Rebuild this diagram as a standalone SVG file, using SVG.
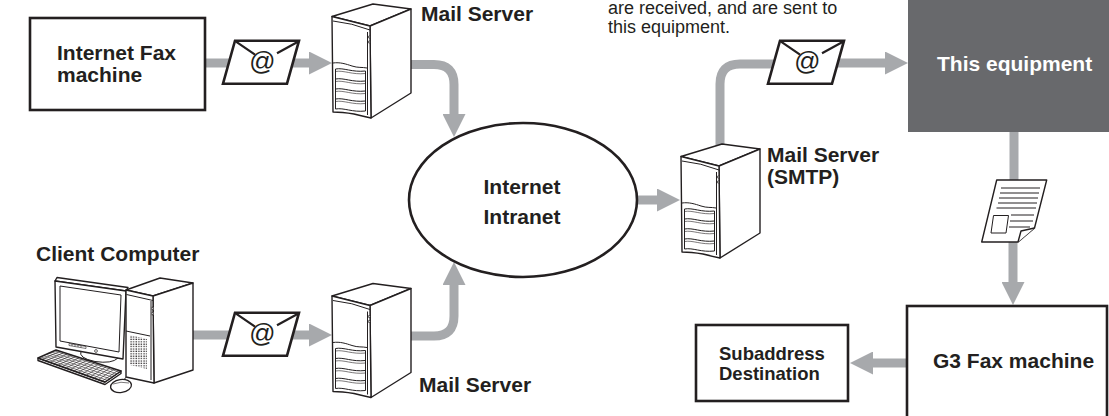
<svg xmlns="http://www.w3.org/2000/svg" width="1109" height="416" viewBox="0 0 1109 416">
<style>
  .lbl{font-family:"Liberation Sans",Arial,Helvetica,sans-serif;font-weight:bold;font-size:21px;fill:#231f20}
  .sm{font-size:18.5px}
  .note{font-family:"Liberation Sans",Arial,Helvetica,sans-serif;font-size:18px;fill:#231f20}
  .box{fill:#fff;stroke:#231f20;stroke-width:2.6}
  .flow{fill:none;stroke:#a7a9ac;stroke-width:9}
  .arr{marker-end:url(#head)}
  .ln{fill:#fff;stroke:#231f20;stroke-width:1.4;stroke-linejoin:round}
  .thin{fill:none;stroke:#231f20;stroke-width:1}
  .hair{fill:none;stroke:#231f20;stroke-width:0.6}
  .at{font-family:"Liberation Sans",Arial,Helvetica,sans-serif;font-style:italic;font-size:26px;fill:#231f20}
</style>
<defs>
  <marker id="head" viewBox="0 -11.5 23 23" refX="0" refY="0" markerWidth="23" markerHeight="23" markerUnits="userSpaceOnUse" orient="auto">
    <path d="M0,-11.5 L23,0 L0,11.5 Z" fill="#a7a9ac"/>
  </marker>
  <pattern id="vent" width="2.6" height="2.4" patternUnits="userSpaceOnUse">
    <rect x="0.4" y="0.4" width="1.3" height="1.2" fill="#231f20"/>
  </pattern>
  <!-- tower server, local origin at top-left of its bounding box -->
  <g id="server">
    <path class="ln" d="M0,12.5 L41,0 L79,5 L38,22 Z"/>
    <path class="ln" d="M38,22 L79,5 L79,89 L39,114 Z"/>
    <path class="ln" d="M0,12.5 L38,22 L39,114 Q30,112 22,110 Q10,108 1,108 Z"/>
    <path class="thin" d="M1,17 Q20,19 38,26"/>
    <path class="thin" d="M35.5,28 V111"/>
    <circle cx="37.2" cy="33" r="1" fill="#fff" stroke="#231f20" stroke-width="0.8"/>
    <circle cx="37.2" cy="38" r="1" fill="#fff" stroke="#231f20" stroke-width="0.8"/>
    <path class="thin" d="M1,59 C8,58 14,60 20,62 C26,64 30,63 35,64"/>
    <path class="thin" d="M3.5,65 V105 M33.5,67 V107"/>
    <path class="thin" d="M3.5,65 C12,63.5 20,68.5 33.5,67 M3.5,75 C12,73.5 20,78.5 33.5,77 M3.5,85 C12,83.5 20,88.5 33.5,87 M3.5,95 C12,93.5 20,98.5 33.5,97 M3.5,105 C12,103.5 20,108.5 33.5,107"/>
    <path class="hair" d="M3.5,67.5 C12,66 20,71 33.5,69.5 M3.5,77.5 C12,76 20,81 33.5,79.5 M3.5,87.5 C12,86 20,91 33.5,89.5 M3.5,97.5 C12,96 20,101 33.5,99.5"/>
  </g>
  <!-- e-mail envelope, local origin at top-left corner -->
  <g id="envelope">
    <polygon points="0,0 64,0 52,43 -12,43" fill="#fff" stroke="#231f20" stroke-width="2.6" stroke-linejoin="miter"/>
    <path d="M1,1 L20,14 M63,1 L42,12.5" fill="none" stroke="#231f20" stroke-width="2.2"/>
    <text class="at" x="27" y="29.5" text-anchor="middle">@</text>
  </g>
</defs>

<rect width="1109" height="416" fill="#fff"/>

<!-- connectors -->
<g id="connectors">
  <path class="flow" d="M205,63 H232"/>
  <path class="flow arr" d="M288,63 H309"/>
  <path class="flow arr" d="M410,64.5 H434 Q454,64.5 454,84.5 V114"/>
  <path class="flow" d="M193,335 H232"/>
  <path class="flow arr" d="M288,335 H309"/>
  <path class="flow arr" d="M411,336 H434 Q454,336 454,316 V285"/>
  <path class="flow arr" d="M636,200 H657"/>
  <path class="flow" d="M720,150 V84 Q720,64 740,64 H775"/>
  <path class="flow arr" d="M836,63 H885"/>
  <path class="flow" d="M1014,131 V186"/>
  <path class="flow arr" d="M1013,240 V282"/>
  <path class="flow arr" d="M908,363 H873"/>
</g>

<!-- note text at the top -->
<g id="note">
  <text class="note" x="608" y="14">are received, and are sent to</text>
  <text class="note" x="608" y="33">this equipment.</text>
</g>

<g id="internet-fax">
  <rect class="box" x="30" y="18" width="175" height="92"/>
  <text class="lbl" x="57" y="60">Internet Fax</text>
  <text class="lbl" x="57" y="82">machine</text>
</g>

<g id="envelope-1"><use href="#envelope" x="235" y="40.7"/></g>

<g id="mail-server-top">
  <use href="#server" x="332" y="4"/>
  <text class="lbl" x="421" y="21">Mail Server</text>
</g>

<g id="client-computer">
  <text class="lbl" x="36" y="261">Client Computer</text>
  <!-- monitor -->
  <path class="ln" d="M55,281 L57,277.5 L128,287.5 L126,291 Z"/>
  <path class="ln" d="M55,281 L126,291 L123,359 L56,347 Z"/>
  <path class="thin" d="M60,286 L121,295 L119,352 L60,341 Z"/>
  <path class="hair" d="M69,343.5 L86,346.5 L86,348.5 L69,345.5 Z M72,344 V346 M75,344.5 V346.5 M78,345 V347 M81,345.5 V347.5"/>
  <circle cx="96" cy="351" r="1.4" fill="#fff" stroke="#231f20" stroke-width="0.7"/>
  <path class="thin" d="M81,351 Q78,358 95,361.5 Q112,364 118,358"/>
  <!-- keyboard -->
  <path class="ln" d="M38,358 L38,360.5 L105,384.5 L121,373.5 L121,371 L105,382 Z"/>
  <path class="ln" d="M38,358 L56,350 L121,371 L105,382 Z"/>
  <path class="hair" d="M40.7,356.8 L107.4,380.4 M43.4,355.6 L109.8,378.7 M46.1,354.4 L112.2,377.1 M48.8,353.2 L114.6,375.4 M51.5,352 L117,373.8 M54.2,350.8 L119.4,372.1
    M42,359.4 L59.9,351.3 M46,360.9 L63.8,352.5 M50.1,362.3 L67.7,353.8 M54.1,363.8 L71.6,355 M58.1,365.2 L75.5,356.3 M62.1,366.6 L79.4,357.6 M66.1,368.1 L83.3,358.8 M70.2,369.5 L87.2,360.1 M74.2,371 L91.1,361.3 M78.2,372.4 L95,362.6 M82.2,373.8 L98.9,363.9 M86.2,375.3 L102.8,365.1 M90.3,376.7 L106.7,366.4 M94.3,378.2 L110.6,367.6 M98.3,379.6 L114.5,368.9 M102.3,381 L118.4,370.2"/>
  <!-- mouse and cord -->
  <path class="thin" d="M124,380 Q127,374 133,375"/>
  <ellipse cx="121" cy="386" rx="10.5" ry="6.5" transform="rotate(-8 121 386)" fill="#fff" stroke="#231f20" stroke-width="1.3"/>
  <path class="hair" d="M113,384 Q121,381 129,383"/>
  <!-- tower -->
  <path class="ln" d="M126,290 L160,278 L193,283 L153,296 Z"/>
  <path class="ln" d="M153,296 L193,283 L193,370 L154,383 Z"/>
  <path class="ln" d="M126,290 L153,296 L154,383 L126,377 Z"/>
  <path class="thin" d="M126.5,294.5 L153,300.5"/>
  <path class="thin" d="M151,301 V380"/>
  <rect x="152" y="307" width="1.6" height="3" fill="#fff" stroke="#231f20" stroke-width="0.6"/>
  <rect x="152" y="312" width="1.6" height="3" fill="#fff" stroke="#231f20" stroke-width="0.6"/>
  <path class="thin" d="M126,331 L150,336"/>
  <path d="M130,335 L147,339 L147,369 L130,365 Z" fill="url(#vent)"/>
</g>

<g id="envelope-3"><use href="#envelope" x="235" y="312.7"/></g>

<g id="mail-server-bottom">
  <use href="#server" x="332" y="283.5"/>
  <text class="lbl" x="419" y="392">Mail Server</text>
</g>

<g id="internet-intranet">
  <ellipse cx="523" cy="200" rx="114" ry="77" fill="#fff" stroke="#231f20" stroke-width="2.6"/>
  <text class="lbl" x="522" y="194" text-anchor="middle">Internet</text>
  <text class="lbl" x="522" y="224" text-anchor="middle">Intranet</text>
</g>

<g id="mail-server-smtp">
  <use href="#server" x="681" y="144"/>
  <text class="lbl" x="767" y="162">Mail Server</text>
  <text class="lbl" x="767" y="184">(SMTP)</text>
</g>

<g id="envelope-2"><use href="#envelope" x="780" y="40.7"/></g>

<g id="this-equipment">
  <rect x="908" y="-5" width="206" height="137" fill="#68696c"/>
  <text class="lbl" x="937" y="71" style="fill:#fff">This equipment</text>
</g>

<g id="document">
  <path class="ln" d="M996.7,180 L1046.7,180 L1034.5,228 L1018,242 L981.7,242 Z" stroke-width="1.6"/>
  <path class="ln" d="M1034.5,228 L1021,231 L1018,242" stroke-width="1.3"/>
  <path class="thin" d="M1001,188 H1040 M1000,193 H1039 M999,198 H1038 M998,203 H1037 M996.5,208 H1036 M1011,215 H1034 M1010,221 H1033 M1009,227 H1030"/>
  <path class="thin" d="M993.5,215.5 L1008.5,215.5 L1006,233 L991,233 Z"/>
</g>

<g id="g3-fax">
  <rect class="box" x="907" y="306" width="200" height="130"/>
  <text class="lbl" x="933" y="368">G3 Fax machine</text>
</g>

<g id="subaddress">
  <rect class="box" x="696" y="325" width="152" height="76"/>
  <text class="lbl sm" x="719" y="360">Subaddress</text>
  <text class="lbl sm" x="719" y="380">Destination</text>
</g>
</svg>
